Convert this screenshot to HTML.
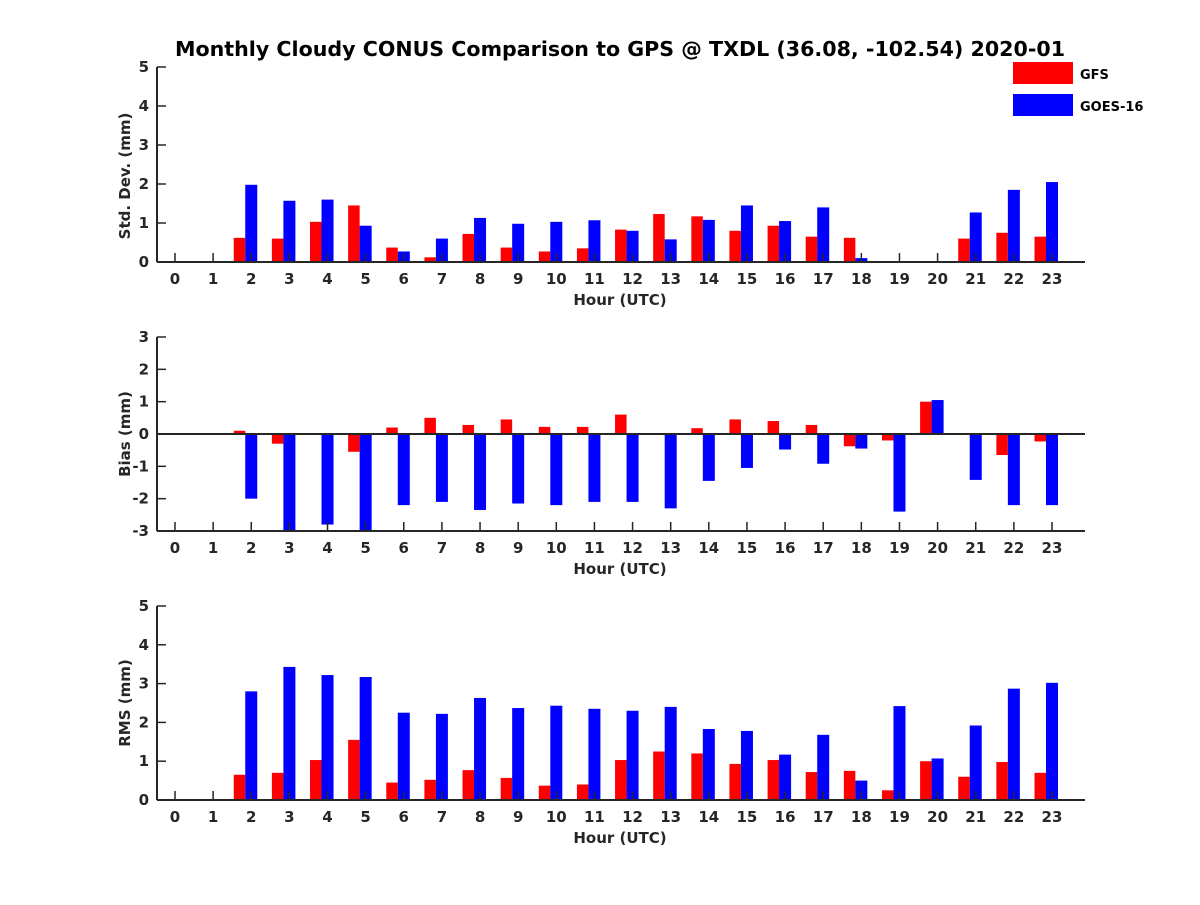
<!DOCTYPE html>
<html><head><meta charset="utf-8"><style>
body{margin:0;background:#fff}
svg text{font-family:"DejaVu Sans","Liberation Sans",sans-serif;font-weight:bold;fill:#262626}
</style></head><body>
<svg id="c" width="1200" height="900" xmlns="http://www.w3.org/2000/svg">
<text x="620" y="56" text-anchor="middle" font-size="20.6" style="fill:#000">Monthly Cloudy CONUS Comparison to GPS @ TXDL (36.08, -102.54) 2020-01</text>
<rect x="1013" y="62" width="60" height="22" fill="#ff0000"/>
<text x="1080" y="79" font-size="13" style="fill:#000">GFS</text>
<rect x="1013" y="94" width="60" height="22" fill="#0000ff"/>
<text x="1080" y="111" font-size="13" style="fill:#000">GOES-16</text>
</svg>
<script>
const hours=[0,1,2,3,4,5,6,7,8,9,10,11,12,13,14,15,16,17,18,19,20,21,22,23];
const stdGFS=[0,0,0.62,0.6,1.03,1.45,0.37,0.12,0.72,0.37,0.27,0.35,0.83,1.23,1.17,0.8,0.93,0.65,0.62,0,0,0.6,0.75,0.65];
const stdGOES=[0,0,1.98,1.57,1.6,0.93,0.27,0.6,1.13,0.98,1.03,1.07,0.8,0.58,1.08,1.45,1.05,1.4,0.1,0,0,1.27,1.85,2.05];
const biasGFS=[0,0,0.1,-0.3,0,-0.55,0.2,0.5,0.28,0.45,0.22,0.22,0.6,0,0.18,0.45,0.4,0.28,-0.38,-0.2,1.0,-0.02,-0.65,-0.23];
const biasGOES=[0,0,-2.0,-3,-2.8,-3,-2.2,-2.1,-2.35,-2.15,-2.2,-2.1,-2.1,-2.3,-1.45,-1.05,-0.48,-0.92,-0.45,-2.4,1.05,-1.42,-2.2,-2.2];
const rmsGFS=[0,0,0.65,0.7,1.03,1.55,0.45,0.52,0.77,0.57,0.37,0.4,1.03,1.25,1.2,0.93,1.03,0.72,0.75,0.25,1.0,0.6,0.98,0.7];
const rmsGOES=[0,0,2.8,3.43,3.22,3.17,2.25,2.22,2.63,2.37,2.43,2.35,2.3,2.4,1.83,1.78,1.17,1.68,0.5,2.42,1.07,1.92,2.87,3.02];
const stdTicks=[0,1,2,3,4,5];
const biasTicks=[-3,-2,-1,0,1,2,3];
const rmsTicks=[0,1,2,3,4,5];

const svg=document.getElementById('c');
const NS='http://www.w3.org/2000/svg';
function mk(t,a,p){const e=document.createElementNS(NS,t);for(const k in a)e.setAttribute(k,a[k]);(p||svg).appendChild(e);return e;}
const X=h=>175+h*38.13;
function panel(key,title,top,bot,ymin,ymax,ticks,gfs,goes,tcy){
  const g=mk('g',{});
  
  
  const Y=v=>bot-(v-ymin)/(ymax-ymin)*(bot-top);
  const y0=Y(Math.max(ymin,0));
  hours.forEach((h,i)=>{
    const gv=Math.max(ymin,Math.min(ymax,gfs[i])), bv=Math.max(ymin,Math.min(ymax,goes[i]));
    const r=mk('rect',{x:X(h)-17.5,y:Math.min(Y(gv),y0),width:11.5,height:Math.abs(Y(gv)-y0),fill:'#ff0000'},g);
    
    
    const b=mk('rect',{x:X(h)-6,y:Math.min(Y(bv),y0),width:12,height:Math.abs(Y(bv)-y0),fill:'#0000ff'},g);
    
    
  });
  if(ymin<0) mk('line',{x1:157,x2:1085,y1:y0,y2:y0,stroke:'#262626','stroke-width':2},g);
  mk('line',{x1:157,x2:1085,y1:bot,y2:bot,stroke:'#262626','stroke-width':2},g);
  mk('line',{x1:157,x2:157,y1:top,y2:bot,stroke:'#262626','stroke-width':2},g);
  ticks.forEach(t=>{
    mk('line',{x1:157,x2:166,y1:Y(t),y2:Y(t),stroke:'#262626','stroke-width':1.5},g);
    const tx=mk('text',{x:149,y:Y(t)+5,'text-anchor':'end','font-size':15},g);tx.textContent=t;
    
    
  });
  hours.forEach(h=>{
    mk('line',{x1:X(h),x2:X(h),y1:bot,y2:bot-9,stroke:'#262626','stroke-width':1.5},g);
    const tx=mk('text',{x:X(h),y:bot+22,'text-anchor':'middle','font-size':15},g);tx.textContent=h;
    
    
  });
  const xt=mk('text',{x:620,y:bot+43,'text-anchor':'middle','font-size':15},g);xt.textContent='Hour (UTC)';
  
  
  const cy=tcy;
  const yt=mk('text',{x:130,y:cy,'text-anchor':'middle','font-size':15,transform:`rotate(-90 130 ${cy})`},g);yt.textContent=title;
  
  
}
panel('std','Std. Dev. (mm)',67,262,0,5,stdTicks,stdGFS,stdGOES,176);
panel('bias','Bias (mm)',337,531,-3,3,biasTicks,biasGFS,biasGOES,434);
panel('rms','RMS (mm)',606,800,0,5,rmsTicks,rmsGFS,rmsGOES,703);
</script>
</body></html>
